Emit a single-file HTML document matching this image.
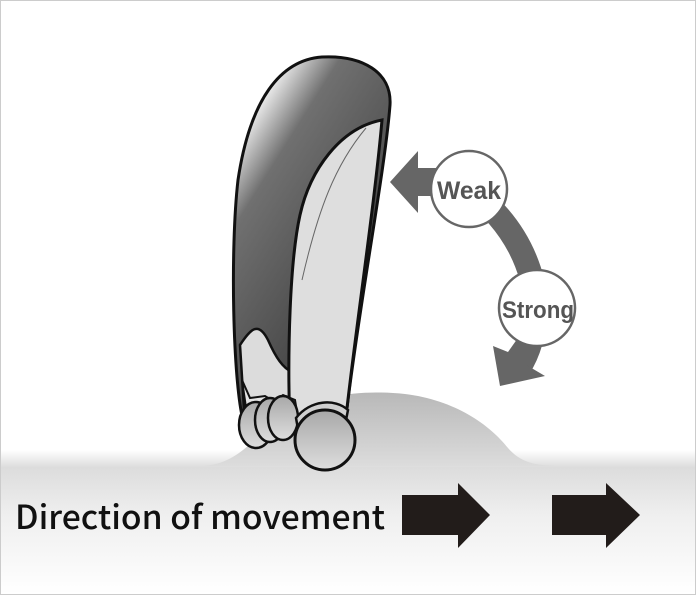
<!DOCTYPE html>
<html><head><meta charset="utf-8"><style>
html,body{margin:0;padding:0;background:#fff}
svg{display:block}
</style></head><body>
<svg width="696" height="595" viewBox="0 0 696 595" xmlns="http://www.w3.org/2000/svg">
<defs>
<linearGradient id="gr" x1="0" y1="0" x2="0" y2="1">
<stop offset="0" stop-color="#ffffff"/><stop offset="0.12" stop-color="#dcdcdc"/><stop offset="0.45" stop-color="#efefef"/><stop offset="1" stop-color="#ffffff"/>
</linearGradient>
<linearGradient id="bump" x1="0" y1="0" x2="0" y2="1">
<stop offset="0" stop-color="#b8b8b8"/><stop offset="1" stop-color="#dcdcdc"/>
</linearGradient>
<linearGradient id="dark" x1="0.3" y1="0" x2="0.7" y2="0.6">
<stop offset="0" stop-color="#ffffff"/><stop offset="0.3" stop-color="#707070"/><stop offset="1" stop-color="#4a4a4a"/>
</linearGradient>
<linearGradient id="ball" x1="0" y1="0" x2="0" y2="1">
<stop offset="0" stop-color="#a8a8a8"/><stop offset="1" stop-color="#dedede"/>
</linearGradient>
</defs>
<rect x="0.5" y="0.5" width="695" height="594" fill="#fff" stroke="#ccc"/>
<rect x="1" y="450" width="694" height="144" fill="url(#gr)"/>
<path d="M205 466 C240 462 250 440 285 415 C325 393 365 390 405 394 C455 400 490 425 508 448 C520 462 535 466 560 466 Z" fill="url(#bump)"/>
<!-- hearing aid -->
<path d="M322 57 C362 55 392 72 390 105 C385 170 360 300 347 408 L300 430 L243 420 C233 380 230 250 238 180 C250 100 280 60 322 57 Z" fill="url(#dark)" stroke="#111" stroke-width="3"/>
<path d="M240 345 C250 330 258 320 268 340 C276 358 283 368 292 372 L298 420 L245 425 Z" fill="#dcdcdc" stroke="#111" stroke-width="2.5"/>
<path d="M300 215 C310 170 340 128 382 120 C375 200 357 320 347 408 L290 432 C287 350 290 260 300 215 Z" fill="#dedede" stroke="#111" stroke-width="3"/>
<path d="M366 128 C335 165 318 210 302 280" fill="none" stroke="#666" stroke-width="1"/>
<path d="M242 380 L250 398 L265 396 L275 402 L283 395 L295 400 L300 430 L250 435 Z" fill="#e4e4e4" stroke="#111" stroke-width="2"/>
<ellipse cx="256" cy="425" rx="17" ry="23" fill="url(#ball)" stroke="#111" stroke-width="2.5"/>
<ellipse cx="270" cy="420" rx="15" ry="22" fill="url(#ball)" stroke="#111" stroke-width="2.5"/>
<ellipse cx="283" cy="418" rx="15" ry="22" fill="url(#ball)" stroke="#111" stroke-width="2.5"/>
<path d="M296 418 C310 400 335 398 348 410 L345 425 L300 440 Z" fill="#d0d0d0" stroke="#111" stroke-width="2.5"/>
<circle cx="325" cy="440" r="30" fill="url(#ball)" stroke="#111" stroke-width="3"/>
<!-- gauge arrows -->
<path d="M469 189 Q530 235 537 308" fill="none" stroke="#666" stroke-width="24"/>
<path d="M537 308 Q535 345 520 368" fill="none" stroke="#666" stroke-width="22"/>
<polygon points="390,182 418,151 418,168 440,168 440,196 418,196 418,213" fill="#666"/>
<polygon points="500,386 493,346 508,352 520,335 535,348 523,363 545,376" fill="#666"/>
<circle cx="469" cy="189" r="38" fill="#fff" stroke="#666" stroke-width="2.5"/>
<circle cx="537" cy="308" r="38" fill="#fff" stroke="#666" stroke-width="2.5"/>
<text x="469" y="199" font-family="Liberation Sans, Noto Sans CJK JP, sans-serif" font-size="25" font-weight="bold" fill="#555" text-anchor="middle" textLength="64" lengthAdjust="spacingAndGlyphs">Weak</text>
<text x="538" y="318" font-family="Liberation Sans, Noto Sans CJK JP, sans-serif" font-size="24" font-weight="bold" fill="#555" text-anchor="middle" textLength="72" lengthAdjust="spacingAndGlyphs">Strong</text>
<!-- bottom -->
<text x="15" y="529" font-family="Noto Sans CJK JP, sans-serif" font-size="33" font-weight="500" fill="#111" textLength="370" lengthAdjust="spacingAndGlyphs">Direction of movement</text>
<polygon points="402,495 458,495 458,483 490,515 458,548 458,535 402,535" fill="#221c1a"/>
<polygon points="552,495 606,495 606,483 640,515 606,548 606,535 552,535" fill="#221c1a"/>
</svg>
</body></html>
